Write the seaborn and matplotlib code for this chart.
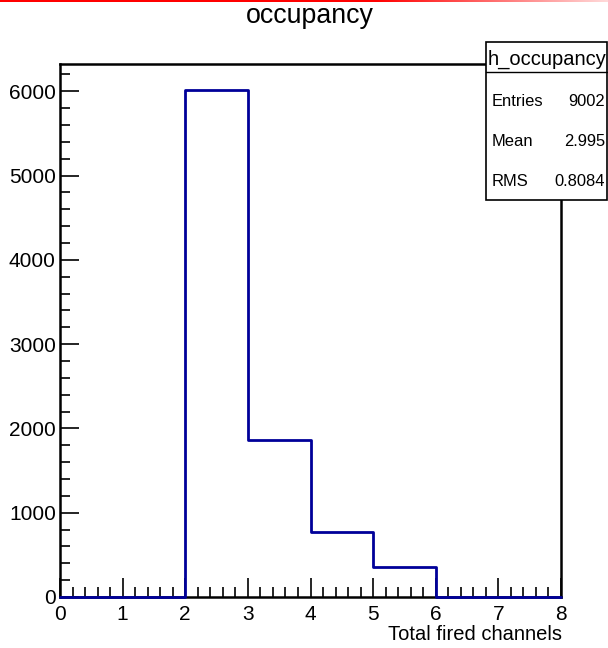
import numpy as np
import pandas as pd
import matplotlib
matplotlib.use("Agg")
import matplotlib.pyplot as plt
from matplotlib.patches import Rectangle
from matplotlib.ticker import MultipleLocator
import seaborn as sns

# Histogram contents: bin edges 0..8, one bin per channel count
bin_edges = [0, 1, 2, 3, 4, 5, 6, 7, 8]
bin_centers = [0.5, 1.5, 2.5, 3.5, 4.5, 5.5, 6.5, 7.5]
bin_counts = [0, 0, 6015, 1860, 775, 352, 0, 0]

hist_name = "h_occupancy"
title = "occupancy"
x_label = "Total fired channels"
stat_labels = ["Entries", "Mean", "RMS"]
stat_values = ["9002", "2.995", "0.8084"]

sns.set_theme(style="white")
plt.rcParams["font.family"] = ["Liberation Sans", "DejaVu Sans"]

W, H = 608, 648
fig = plt.figure(figsize=(W / 100, H / 100), dpi=100)
fig.patch.set_facecolor("white")

# axes frame in pixel coordinates
left, right, top, bottom = 60, 561, 64, 597
ax = fig.add_axes([left / W, (H - bottom) / H, (right - left) / W, (bottom - top) / H])

df = pd.DataFrame({"x": bin_centers, "w": bin_counts})
sns.histplot(data=df, x="x", weights="w", bins=bin_edges, element="step",
             fill=False, color="#000099", linewidth=2.0, ax=ax)
for ln in ax.lines:
    ln.set_zorder(4)
    ln.set_clip_on(False)

ax.set_xlim(0, 8)
ax.set_ylim(0, 6323)
ax.set_xlabel("")
ax.set_ylabel("")

for s in ax.spines.values():
    s.set_color("black")
    s.set_linewidth(1.8)
    s.set_zorder(3)

ax.xaxis.set_major_locator(MultipleLocator(1))
ax.xaxis.set_minor_locator(MultipleLocator(0.2))
ax.yaxis.set_major_locator(MultipleLocator(1000))
ax.yaxis.set_minor_locator(MultipleLocator(200))
ax.tick_params(axis="both", which="major", direction="in", length=14, width=1.2,
               color="black", labelsize=15, labelcolor="black")
ax.tick_params(axis="both", which="minor", direction="in", length=7, width=1.2,
               color="black")
ax.tick_params(axis="x", which="both", bottom=True, top=False, pad=6)
ax.tick_params(axis="y", which="both", left=True, right=False, pad=3)
ax.grid(False)

# title and axis title
fig.text(310 / W, 1 - 16 / H, title, ha="center", va="center", fontsize=19.3, color="black")
fig.text(562 / W, 1 - 635 / H, x_label, ha="right", va="center", fontsize=14.5, color="black")

# statistics box
bx0, bx1, by0, by1 = 486, 607, 42, 200
box = Rectangle((bx0 / W, 1 - by1 / H), (bx1 - bx0) / W, (by1 - by0) / H,
                transform=fig.transFigure, facecolor="white", edgecolor="black",
                linewidth=1.2, zorder=5)
fig.add_artist(box)
fig.add_artist(plt.Line2D([bx0 / W, bx1 / W], [1 - 72 / H, 1 - 72 / H],
                          transform=fig.transFigure, color="black", linewidth=1.0, zorder=6))
fig.text(547 / W, 1 - 59 / H, hist_name, ha="center", va="center", fontsize=14.5,
         color="black", zorder=7)
for i, (lab, val) in enumerate(zip(stat_labels, stat_values)):
    yy = 1 - (101 + 40 * i) / H
    fig.text(492 / W, yy, lab, ha="left", va="center", fontsize=11.9, color="black", zorder=7)
    fig.text(605 / W, yy, val, ha="right", va="center", fontsize=11.9, color="black", zorder=7)

# thin red gradient strip along the top edge
grad = np.ones((1, W, 4))
xs = np.linspace(0, 1, W)
alpha = np.clip(1.0 - np.clip((xs - 0.62) / 0.38, 0, 1) * 0.85, 0, 1)
grad[0, :, 0] = 1.0
grad[0, :, 1] = 0.0
grad[0, :, 2] = 0.0
grad[0, :, 3] = alpha
gax = fig.add_axes([0, 1 - 2.5 / H, 1, 2.5 / H])
gax.imshow(grad, aspect="auto", extent=[0, 1, 0, 1])
gax.axis("off")

fig.savefig("out.png", dpi=100, facecolor="white")
